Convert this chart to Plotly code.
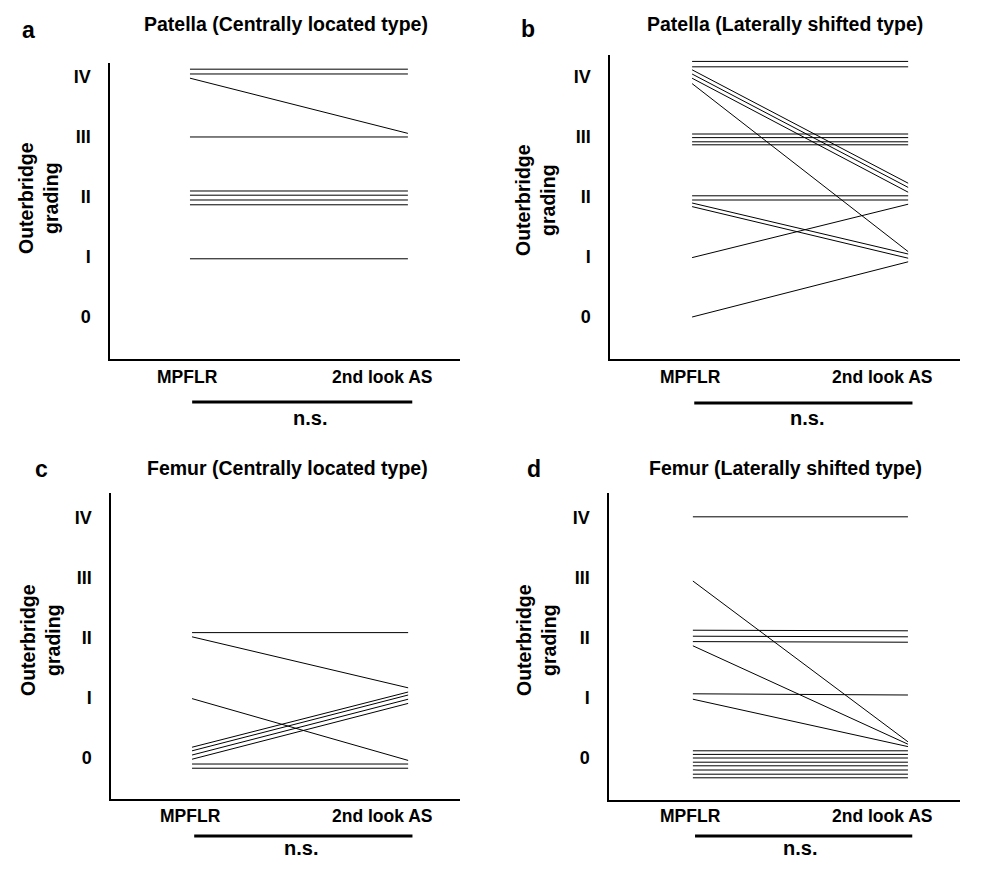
import plotly.graph_objects as go

# page body has an 8px margin: the figure is sized/shifted to fit the 986x870 window
OFF = 8
W, H = 986 - 2 * OFF, 870 - 2 * OFF
FONT = "Liberation Sans, Arial, Helvetica, sans-serif"

# ---------------- data ----------------
grade_vals = [0, 1, 2, 3, 4]
grade_text = ["0", "I", "II", "III", "IV"]
x_categories = ["MPFLR", "2nd look AS"]

a_title = "Patella (Centrally located type)"
a_mpflr = [4.13, 4.05, 3.98, 3.00, 2.10, 2.03, 1.95, 1.87, 0.97]
a_2nd = [4.13, 4.05, 3.06, 3.00, 2.10, 2.03, 1.95, 1.87, 0.97]

b_title = "Patella (Laterally shifted type)"
b_mpflr = [4.26, 4.17, 4.12, 4.05, 3.98, 3.89, 3.05, 2.99, 2.92, 2.87, 2.02, 1.95, 1.90, 1.84, 0.99, 0.00]
b_2nd = [4.26, 4.17, 2.23, 2.16, 2.08, 1.09, 3.05, 2.99, 2.92, 2.87, 2.02, 1.95, 1.05, 0.98, 1.88, 0.92]

c_title = "Femur (Centrally located type)"
c_mpflr = [2.09, 2.02, 0.99, 0.18, 0.12, 0.05, -0.02, -0.10, -0.17]
c_2nd = [2.09, 1.17, -0.04, 1.10, 1.05, 0.98, 0.91, -0.10, -0.17]

d_title = "Femur (Laterally shifted type)"
d_mpflr = [4.02, 2.95, 2.13, 2.03, 1.94, 1.87, 1.07, 0.98, 0.12, 0.06, 0.00, -0.07, -0.13, -0.20, -0.27, -0.33]
d_2nd = [4.02, 0.27, 2.12, 2.02, 1.93, 0.23, 1.05, 0.19, 0.12, 0.06, 0.00, -0.07, -0.13, -0.20, -0.27, -0.33]

sig_text = "n.s."
y_title = "Outerbridge<br>grading"

# ---------------- layout geometry (window pixels) ----------------
panels = [
    dict(letter="a", title=a_title, m=a_mpflr, s=a_2nd, px=(110, 460), py=(63, 359),
         xr=(-0.367, 1.239), yr=(-0.70, 4.233), letter_xy=(28, 30), title_xy=(286, 24),
         ytitle_x=38, ytitle_y=198, lab_y=377, bar_y=402, ns_xy=(310, 418)),
    dict(letter="b", title=b_title, m=b_mpflr, s=b_2nd, px=(610, 960), py=(55, 359),
         xr=(-0.38, 1.24), yr=(-0.70, 4.367), letter_xy=(528, 29), title_xy=(785, 24),
         ytitle_x=535, ytitle_y=200, lab_y=377, bar_y=403, ns_xy=(807, 418)),
    dict(letter="c", title=c_title, m=c_mpflr, s=c_2nd, px=(111, 460), py=(493, 799),
         xr=(-0.375, 1.24), yr=(-0.683, 4.417), letter_xy=(41, 469), title_xy=(287, 468),
         ytitle_x=40, ytitle_y=640, lab_y=816, bar_y=836, ns_xy=(301, 848)),
    dict(letter="d", title=d_title, m=d_mpflr, s=d_2nd, px=(609, 960), py=(493, 800),
         xr=(-0.39, 1.242), yr=(-0.70, 4.417), letter_xy=(534, 469), title_xy=(785, 468),
         ytitle_x=536, ytitle_y=640, lab_y=816, bar_y=836, ns_xy=(800, 848)),
]


def fx(px):
    return (px - OFF) / W


def fy(py):
    return 1 - (py - OFF) / H


fig = go.Figure()
annotations = []
shapes = []
layout = dict(
    width=W, height=H, margin=dict(l=0, r=0, t=0, b=0, pad=0), autosize=False,
    paper_bgcolor="white", plot_bgcolor="white", showlegend=False,
    font=dict(family=FONT, color="black"),
)

for i, p in enumerate(panels):
    n = "" if i == 0 else str(i + 1)
    xa, ya = "x" + n, "y" + n
    for m, s in zip(p["m"], p["s"]):
        fig.add_trace(go.Scatter(
            x=[0, 1], y=[m, s], mode="lines", xaxis=xa, yaxis=ya,
            line=dict(color="black", width=1), hoverinfo="skip"))
    layout["xaxis" + n] = dict(
        domain=[fx(p["px"][0]), fx(p["px"][1])], range=list(p["xr"]), anchor=ya,
        showgrid=False, zeroline=False, showline=True, linecolor="black", linewidth=1.5,
        showticklabels=False, ticks="", fixedrange=True)
    layout["yaxis" + n] = dict(
        domain=[fy(p["py"][1]), fy(p["py"][0])], range=list(p["yr"]), anchor=xa,
        showgrid=False, zeroline=False, showline=True, linecolor="black", linewidth=1.5,
        tickvals=grade_vals, ticktext=grade_text, ticks="", ticklabelstandoff=14,
        tickfont=dict(family=FONT, size=18, color="black", weight="bold"), fixedrange=True)

    annotations.append(dict(text="<b>%s</b>" % p["letter"], xref="paper", yref="paper",
                            x=fx(p["letter_xy"][0]), y=fy(p["letter_xy"][1]),
                            xanchor="center", yanchor="middle", showarrow=False,
                            font=dict(size=23, family=FONT)))
    annotations.append(dict(text="<b>%s</b>" % p["title"], xref="paper", yref="paper",
                            x=fx(p["title_xy"][0]), y=fy(p["title_xy"][1]),
                            xanchor="center", yanchor="middle", showarrow=False,
                            font=dict(size=19.5, family=FONT)))
    annotations.append(dict(text="<b>%s</b>" % y_title, xref="paper", yref="paper",
                            x=fx(p["ytitle_x"]), y=fy(p["ytitle_y"]), textangle=-90,
                            xanchor="center", yanchor="middle", showarrow=False,
                            font=dict(size=19.5, family=FONT)))
    annotations.append(dict(text="<b>%s</b>" % x_categories[0], xref=xa, yref="paper",
                            x=0, y=fy(p["lab_y"]), xshift=-2,
                            xanchor="center", yanchor="middle", showarrow=False,
                            font=dict(size=17.5, family=FONT)))
    annotations.append(dict(text="<b>%s</b>" % x_categories[1], xref=xa, yref="paper",
                            x=1, y=fy(p["lab_y"]), xshift=-26,
                            xanchor="center", yanchor="middle", showarrow=False,
                            font=dict(size=17.5, family=FONT)))
    shapes.append(dict(type="line", xref=xa, yref="paper", x0=0.01, x1=1.02,
                       y0=fy(p["bar_y"]), y1=fy(p["bar_y"]),
                       line=dict(color="black", width=3)))
    annotations.append(dict(text="<b>%s</b>" % sig_text, xref="paper", yref="paper",
                            x=fx(p["ns_xy"][0]), y=fy(p["ns_xy"][1]),
                            xanchor="center", yanchor="middle", showarrow=False,
                            font=dict(size=20, family=FONT)))

layout["annotations"] = annotations
layout["shapes"] = shapes
fig.update_layout(**layout)
fig.write_html("out.html")
